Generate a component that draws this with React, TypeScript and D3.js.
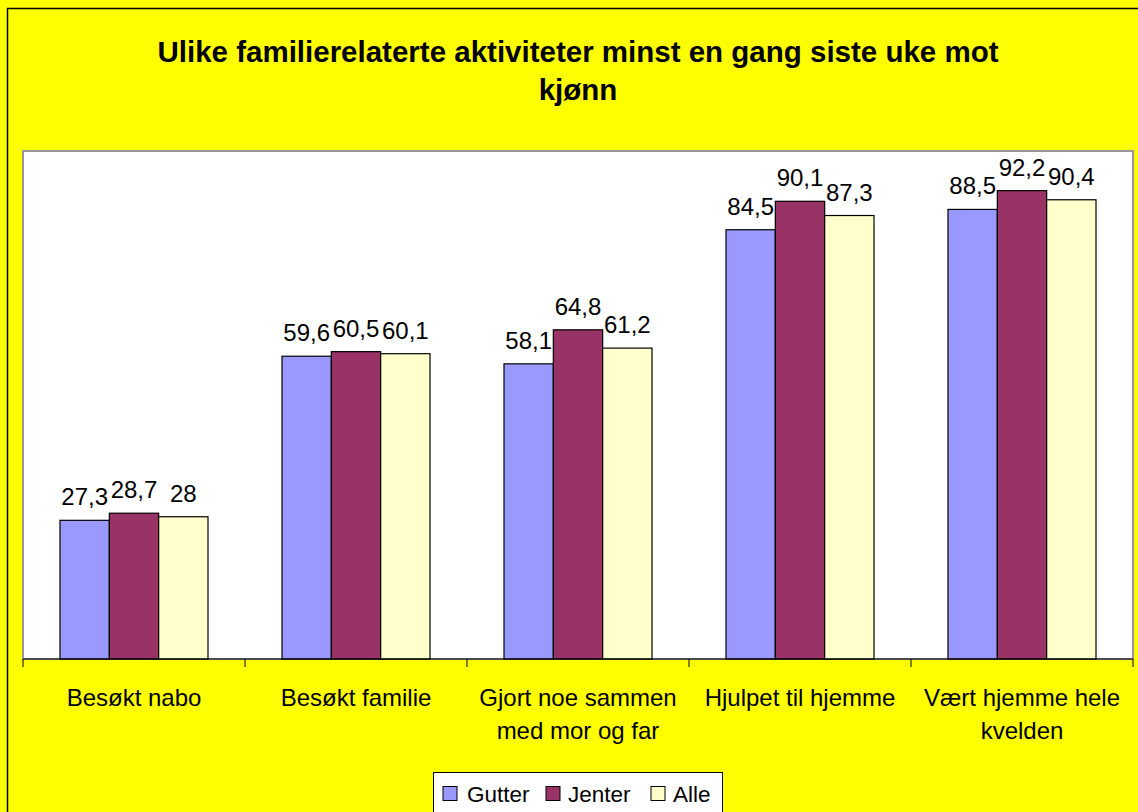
import React from "react";
import * as d3 from "d3";

const categories: string[][] = [
  ["Besøkt nabo"],
  ["Besøkt familie"],
  ["Gjort noe sammen", "med mor og far"],
  ["Hjulpet til hjemme"],
  ["Vært hjemme hele", "kvelden"],
];
const seriesNames = ["Gutter", "Jenter", "Alle"];
const gutter = [27.3, 59.6, 58.1, 84.5, 88.5];
const jenter = [28.7, 60.5, 64.8, 90.1, 92.2];
const alle = [28, 60.1, 61.2, 87.3, 90.4];
const seriesColors = ["#9999FF", "#993366", "#FFFFCC"];
const titleLines = ["Ulike familierelaterte aktiviteter minst en gang siste uke mot", "kjønn"];

const W = 1138;
const H = 812;
const font = "'Liberation Sans', Arial, sans-serif";

export default function App() {
  const values = [gutter, jenter, alle];
  const catKeys = categories.map((c) => c.join(" "));
  const plot = { left: 23, right: 1133, top: 151, bottom: 659 };
  const x0 = d3.scaleBand<string>().domain(catKeys).range([plot.left, plot.right]).paddingInner(0).paddingOuter(0);
  const x1 = d3.scaleBand<string>().domain(seriesNames).range([0, x0.bandwidth()]).paddingInner(0).paddingOuter(0.75);
  const y = d3.scaleLinear().domain([0, 100]).range([plot.bottom, plot.top]);
  const fmt = (v: number) => String(v).replace(".", ",");
  const ticks = d3.range(catKeys.length + 1).map((i) => plot.left + i * x0.step());

  const legendItems = [
    { swatchX: 443, textX: 467 },
    { swatchX: 546, textX: 568 },
    { swatchX: 651, textX: 673 },
  ];

  return (
    <svg width={W} height={H} style={{ position: "absolute", left: 0, top: 0, display: "block" }}>
      <rect x={0} y={0} width={W} height={H} fill="#FFFF00" />
      <rect x={7.5} y={8.5} width={W + 20} height={H + 20} fill="#FFFF00" stroke="#000" strokeWidth={1.5} />
      {/* Title */}
      <text textAnchor="middle" fontFamily={font} fontWeight="bold" fontSize={29.5} fill="#000">
        <tspan x={578} y={62}>{titleLines[0]}</tspan>
        <tspan x={578} y={100}>{titleLines[1]}</tspan>
      </text>
      {/* Plot area */}
      <rect x={plot.left} y={plot.top} width={plot.right - plot.left} height={plot.bottom - plot.top} fill="#fff" stroke="#999" strokeWidth={2} />
      {/* Bars */}
      {catKeys.map((ck, ci) => (
        <g key={ck}>
          {seriesNames.map((s, si) => {
            const v = values[si][ci];
            const bx = (x0(ck) ?? 0) + (x1(s) ?? 0);
            const bw = x1.bandwidth();
            return (
              <g key={s}>
                <rect x={bx} y={y(v)} width={bw} height={y(0) - y(v)} fill={seriesColors[si]} stroke="#000" strokeWidth={1.2} />
                <text x={bx + bw / 2} y={y(v) - 15} textAnchor="middle" fontFamily={font} fontSize={24} fill="#000">
                  {fmt(v)}
                </text>
              </g>
            );
          })}
        </g>
      ))}
      {/* Axis */}
      <line x1={plot.left} x2={plot.right} y1={plot.bottom} y2={plot.bottom} stroke="#000" strokeWidth={1.2} />
      {ticks.map((t, i) => (
        <line key={i} x1={t} x2={t} y1={plot.bottom} y2={plot.bottom + 8} stroke="#000" strokeWidth={1} />
      ))}
      {categories.map((lines, ci) => (
        <text key={ci} textAnchor="middle" fontFamily={font} fontSize={24} fill="#000">
          {lines.map((l, li) => (
            <tspan key={li} x={(x0(catKeys[ci]) ?? 0) + x0.bandwidth() / 2} y={706 + li * 33}>
              {l}
            </tspan>
          ))}
        </text>
      ))}
      {/* Legend */}
      <rect x={433.5} y={772.5} width={289} height={50} fill="#fff" stroke="#000" strokeWidth={1} />
      {seriesNames.map((s, si) => (
        <g key={s}>
          <rect x={legendItems[si].swatchX} y={786.5} width={14} height={14} fill={seriesColors[si]} stroke="#000" strokeWidth={1} />
          <text x={legendItems[si].textX} y={802} fontFamily={font} fontSize={22.5} fill="#000">
            {s}
          </text>
        </g>
      ))}
    </svg>
  );
}
